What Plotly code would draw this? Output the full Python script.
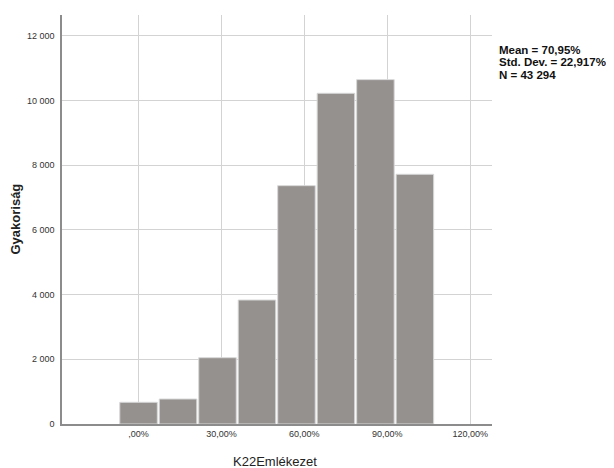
import plotly.graph_objects as go

bin_centers = [0, 100/7, 200/7, 300/7, 400/7, 500/7, 600/7, 700/7]
counts = [671, 773, 2050, 3835, 7371, 10227, 10650, 7722]
x_tickvals = [0, 30, 60, 90, 120]
x_ticktext = [",00%", "30,00%", "60,00%", "90,00%", "120,00%"]
y_tickvals = [0, 2000, 4000, 6000, 8000, 10000, 12000]
y_ticktext = ["0", "2 000", "4 000", "6 000", "8 000", "10 000", "12 000"]
stats_lines = ["Mean = 70,95%", "Std. Dev. = 22,917%", "N = 43 294"]

FONT = "Liberation Sans, Arial, sans-serif"

fig = go.Figure()
fig.add_trace(go.Bar(
    x=bin_centers, y=counts, width=100/7 - 0.7,
    marker=dict(color="#95918f", line=dict(color="#d8d8d8", width=1)),
    hoverinfo="x+y",
))

annotations = [
    dict(text="<b>Gyakoriság</b>", xref="paper", yref="paper", x=0, y=0.5,
         xshift=-47, textangle=-90, showarrow=False,
         font=dict(size=13, color="#222", family=FONT),
         xanchor="center", yanchor="middle"),
    dict(text="K22Emlékezet", xref="paper", yref="paper", x=(275 - 62) / 430, y=0,
         yshift=-37, showarrow=False,
         font=dict(size=13, color="#222", family=FONT),
         xanchor="center", yanchor="middle"),
]
for i, line in enumerate(stats_lines):
    annotations.append(dict(
        text="<b>%s</b>" % line, xref="paper", yref="paper", x=1, y=1,
        xshift=5, yshift=-34.5 - 12.5 * i, showarrow=False, align="left",
        font=dict(size=11.5, color="#111", family=FONT),
        xanchor="left", yanchor="middle"))

fig.update_layout(
    width=606, height=460,
    margin=dict(l=54, r=122, t=7, b=44),
    paper_bgcolor="white", plot_bgcolor="white",
    showlegend=False,
    font=dict(family=FONT, size=9, color="#222"),
    xaxis=dict(
        range=[-27.7, 127.9], tickvals=x_tickvals, ticktext=x_ticktext,
        showgrid=True, gridcolor="#d3d3d3", gridwidth=1,
        showline=True, linecolor="#8c8c8c", linewidth=1.5,
        ticks="", zeroline=False, tickfont=dict(size=9, color="#333"),
    ),
    yaxis=dict(
        range=[0, 12649], tickvals=y_tickvals, ticktext=y_ticktext,
        showgrid=True, gridcolor="#d3d3d3", gridwidth=1,
        showline=True, linecolor="#8c8c8c", linewidth=1.5,
        ticks="", zeroline=False, tickfont=dict(size=9, color="#333"),
        ticklabelstandoff=4,
    ),
    annotations=annotations,
)

fig.write_html("out.html")
